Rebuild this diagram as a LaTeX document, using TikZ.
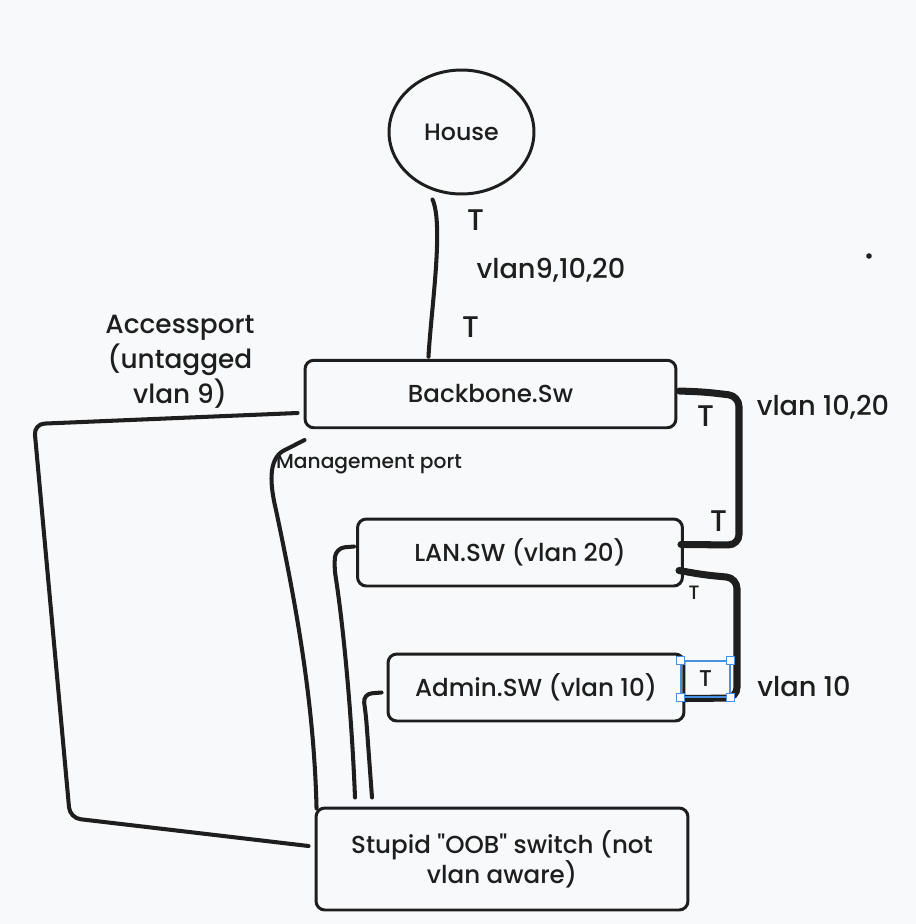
\documentclass[tikz,border=0pt]{standalone}
\usepackage{fontspec}
\setmainfont{Poppins Medium}[Ligatures=TeXOff]
\usepackage{tikz}
\usetikzlibrary{arrows.meta,positioning,calc,shapes.geometric}
\definecolor{paper}{RGB}{248,249,250}
\definecolor{ink}{RGB}{30,30,30}
\definecolor{selblue}{RGB}{74,144,226}

\begin{document}
\begin{tikzpicture}[x=0.02cm,y=-0.02cm,color=ink,
  swbox/.style={draw,line width=1.7pt,rounded corners=5pt,inner sep=0pt,minimum height=1.35cm,font=\fontsize{14}{17}\selectfont},
  wire/.style={line width=2.3pt,line cap=round,line join=round},
  trunk/.style={line width=4pt,line cap=round,rounded corners=6pt},
  lbl/.style={font=\fontsize{15.5}{20}\selectfont},
  tagT/.style={font=\fontsize{17}{18}\selectfont}]
  \fill[paper] (0,0) rectangle (916,924); % 背景

  \node[draw,ellipse,line width=1.7pt,inner sep=0pt,minimum width=2.9cm,minimum height=2.48cm,
    font=\fontsize{13.5}{16}\selectfont] (house) at (461.5,132) {House}; % 上流
  \node[swbox,minimum width=7.42cm] (bb) at (490.5,394) {Backbone.Sw}; % バックボーン
  \node[swbox,minimum width=6.5cm,minimum height=1.34cm] (lansw) at (520,552.5) {LAN.SW (vlan 20)}; % LAN
  \node[swbox,minimum width=5.92cm,minimum height=1.34cm] (adminsw) at (536,687.5) {Admin.SW (vlan 10)}; % 管理
  \node[swbox,minimum width=7.44cm,minimum height=2.04cm,align=center] (oob) at (502,859)
    {Stupid "OOB" switch (not\\vlan aware)}; % OOBスイッチ

  \draw[wire] ($(house.south)+(-29,4)$) .. controls (444,225) and (431,310) .. ($(bb.north)+(-62,-2)$); % 上流の回線
  \draw[trunk] ($(bb.east)+(2,-3)$) -- (705,392) -- (739,396) -- (739,545) -- ($(lansw.east)+(-3,-8)$); % vlan 10,20 のトランク
  \draw[trunk] ($(lansw.east)+(-5,18)$) -- (705,575) -- (737,578) -- (737,698) -- ($(adminsw.east)+(0,11)$); % vlan 10 のトランク
  \draw[wire,rounded corners=6pt] ($(bb.west)+(-6,19)$) -- (34,424) -- (70,818) -- ($(oob.west)+(-6,-13)$); % アクセスポート
  \draw[wire] ($(bb.west)+(1,46)$) -- (283,451) .. controls (268,460) and (270,485) .. (276,510)
    .. controls (295,600) and (314,700) .. ($(oob.north west)+(2,2)$); % 管理ポート
  \draw[wire,rounded corners=5pt] ($(lansw.west)+(-2,-6)$) -- (336,548) -- (334,566)
    .. controls (344,630) and (352,720) .. ($(oob.north)+(-147,-9)$); % LAN.SW の管理
  \draw[wire,rounded corners=5pt] ($(adminsw.west)+(-5,5)$) -- (363,694) -- (366,716) -- ($(oob.north)+(-130,-9)$); % Admin.SW の管理

  \node[tagT] (t1) at (476,220) {T}; % タグ
  \node[lbl] (vall) at (551,270) {vlan9,10,20};
  \node[tagT] (t2) at (471,327) {T};
  \node[tagT] (t3) at (706,416) {T};
  \node[lbl] (vbb) at (823,407) {vlan 10,20};
  \node[tagT] (t4) at (719,521) {T};
  \node[font=\fontsize{11}{12}\selectfont] (t5) at (694,593) {T};
  \node[draw=selblue,line width=0.8pt,minimum width=0.98cm,minimum height=0.72cm,inner sep=0pt,
    font=\fontsize{13}{14}\selectfont] (tsel) at (705.5,679) {T}; % 選択枠
  \foreach \c in {north west,north east,south west,south east}
    \draw[selblue,fill=white,line width=0.8pt] ($(tsel.\c)+(-4,-4)$) rectangle ($(tsel.\c)+(4,4)$);
  \node[lbl] (vadm) at (804,687) {vlan 10};
  \node[lbl,align=center,font=\fontsize{15}{20}\selectfont] (acc) at (180,362) {Accessport\\(untagged\\vlan 9)};
  \node[font=\fontsize{11.5}{12}\selectfont] (mgmt) at (369,464) {Management port};
  \fill (869,256) circle (2.8); % 点
\end{tikzpicture}
\end{document}
